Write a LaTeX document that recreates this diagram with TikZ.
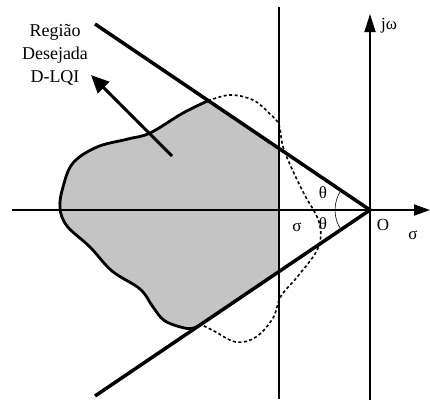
\documentclass[tikz,border=0pt]{standalone}
\usepackage{fontspec}
\setmainfont{Liberation Serif}
\usetikzlibrary{arrows.meta}
\definecolor{regiongray}{HTML}{C4C4C4}
\tikzset{
  axisline/.style={line width=1.8pt},
  coneline/.style={line width=3.5pt},
  boundary/.style={line width=2.8pt},
  dashcurve/.style={line width=1.6pt, dash pattern=on 3pt off 2.5pt},
  lbl/.style={font=\fontsize{17}{19}\selectfont, inner sep=0pt},
  bigtxt/.style={font=\fontsize{18}{23}\selectfont, align=center, inner sep=0pt},
}
\begin{document}
\begin{tikzpicture}[x=1pt,y=-1pt]
\useasboundingbox (0,0) rectangle (430,405);
% key points
\coordinate (O) at (370,210);
\coordinate (ua) at (95,24);
\coordinate (la) at (95,396);
\coordinate (pu) at (208,100.8);
\coordinate (pl) at (197,326.6);
\coordinate (vu) at (279,148.7);
\coordinate (vl) at (279,271.3);
% gray region
\fill[regiongray] plot[smooth, tension=0.6] coordinates {(208,100.8) (183,113) (150,133) (128,139) (97,147) (73,163) (63,187) (60,208) (67,226) (90,247) (112,271) (140,289) (153,307) (165,321) (187,328.5) (197,326.6)} -- (vl) -- (vu) -- cycle;
% boundary curve
\draw[boundary] plot[smooth, tension=0.6] coordinates {(208,100.8) (183,113) (150,133) (128,139) (97,147) (73,163) (63,187) (60,208) (67,226) (90,247) (112,271) (140,289) (153,307) (165,321) (187,328.5) (197,326.6)};
% dashed curve
\draw[dashcurve] plot[smooth, tension=0.6] coordinates {(208,100.8) (230,95) (253,100) (270,114) (279,125) (284,150) (302,190) (319,222) (318,248) (298,276) (281,296) (273,318) (256,337) (236,342) (214,331) (200,324)};
% axes
\coordinate (hl) at (12,210);
\coordinate (hr) at (430,210);
\coordinate (vb) at (370,400);
\coordinate (vt) at (370,14);
\draw[axisline, -{Triangle[length=16pt,width=11pt]}] (hl) -- (hr);
\draw[axisline, -{Triangle[length=18pt,width=11pt]}] (vb) -- (vt);
\coordinate (st) at (279,7);
\coordinate (sb) at (279,399);
\draw[axisline] (st) -- (sb);
% cone lines
\draw[coneline, line join=miter] (ua) -- (O) -- (la);
% angle arc
\draw[line width=0.6pt] (O) ++(145:35) arc[start angle=145, end angle=215, radius=35];
% arrow
\coordinate (at) at (172,156);
\coordinate (ah) at (91,75);
\draw[line width=3pt, -{Triangle[length=18pt,width=16pt]}] (at) -- (ah);
% labels
\node[bigtxt] (txt) at (55,55) {Região\\Desejada\\D-LQI};
\node[lbl, anchor=west] (jw) at (381,26) {jω};
\node[lbl] (th1) at (323,193) {θ};
\node[lbl] (th2) at (323,224) {θ};
\node[lbl] (sg1) at (297,227) {σ};
\node[lbl] (oo) at (383,225) {O};
\node[lbl] (sg2) at (413,235) {σ};
\end{tikzpicture}
\end{document}
